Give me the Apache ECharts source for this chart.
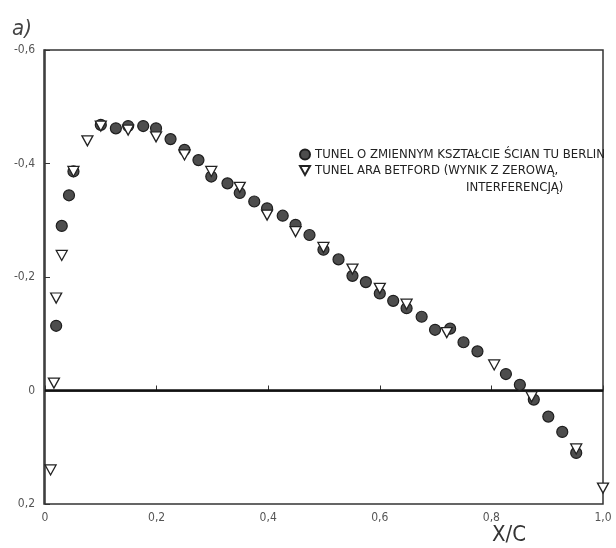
<!DOCTYPE html>
<html>
<head>
<meta charset="utf-8">
<script src="https://cdn.jsdelivr.net/npm/echarts@6/dist/echarts.min.js"></script>
<style>
html,body{margin:0;padding:0;background:#fff;}
#c{width:616px;height:548px;}
</style>
</head>
<body>
<div id="c"></div>
<script>
// x/c and pressure coefficient values
const berlinX = [0.020,0.030,0.043,0.051,0.100,0.127,0.149,0.176,0.199,0.225,0.250,0.275,0.298,0.327,0.349,0.375,0.398,0.426,0.449,0.474,0.499,0.526,0.551,0.575,0.600,0.624,0.648,0.675,0.699,0.726,0.750,0.775,0.826,0.851,0.876,0.902,0.927,0.952];
const berlinY = [-0.114,-0.290,-0.344,-0.386,-0.468,-0.462,-0.466,-0.466,-0.462,-0.443,-0.424,-0.406,-0.377,-0.365,-0.348,-0.333,-0.321,-0.308,-0.292,-0.274,-0.248,-0.231,-0.202,-0.191,-0.171,-0.158,-0.145,-0.130,-0.107,-0.109,-0.085,-0.069,-0.029,-0.010,0.016,0.046,0.073,0.110];
const bedfordX = [0.010,0.016,0.020,0.030,0.051,0.076,0.100,0.149,0.199,0.250,0.298,0.349,0.398,0.449,0.499,0.551,0.600,0.648,0.720,0.805,0.872,0.952,1.000];
const bedfordY = [0.140,-0.013,-0.163,-0.238,-0.386,-0.440,-0.466,-0.459,-0.447,-0.415,-0.386,-0.358,-0.309,-0.280,-0.252,-0.214,-0.180,-0.152,-0.102,-0.045,0.011,0.103,0.172];
const zeroLineX = [0, 1];
const zeroLineY = [0, 0];
const xTicks = ['0','0,2','0,4','0,6','0,8','1,0'];
const yTicks = {'-0.6':'-0,6','-0.4':'-0,4','-0.2':'-0,2','0':'0','0.2':'0,2'};
const nameBerlin = 'TUNEL O ZMIENNYM KSZTAŁCIE ŚCIAN TU BERLIN';
const nameBedford = 'TUNEL ARA BETFORD (WYNIK Z ZEROWĄ,';
const nameBedford2 = 'INTERFERENCJĄ)';

const zip = (a, b) => a.map((v, i) => [v, b[i]]);
const font = "'Liberation Sans Narrow','DejaVu Sans Condensed','Liberation Sans',sans-serif";

const chart = echarts.init(document.getElementById('c'), null, {renderer: 'canvas'});
chart.setOption({
  backgroundColor: '#ffffff',
  animation: false,
  grid: {left: 45, right: 13, top: 50, bottom: 44, show: false},
  xAxis: {
    type: 'value', min: 0, max: 1, interval: 0.2,
    axisLine: {show: true, lineStyle: {color: '#333', width: 1.5}},
    axisTick: {show: true, inside: true, length: 5, lineStyle: {color: '#333'}},
    splitLine: {show: false},
    axisLabel: {
      color: '#555', fontSize: 12, fontFamily: font, margin: 8,
      formatter: v => xTicks[Math.round(v * 5)]
    }
  },
  yAxis: {
    type: 'value', min: -0.6, max: 0.2, interval: 0.2, inverse: true,
    axisLine: {show: true, onZero: false, lineStyle: {color: '#333', width: 1.5}},
    axisTick: {show: true, inside: true, length: 5, lineStyle: {color: '#333'}},
    splitLine: {show: false},
    axisLabel: {
      color: '#555', fontSize: 12, fontFamily: font, margin: 10,
      formatter: v => yTicks[String(Math.round(v * 10) / 10)]
    }
  },
  legend: {
    orient: 'vertical', left: 294, top: 143, itemGap: 3,
    itemWidth: 10, itemHeight: 10,
    textStyle: {color: '#222', fontSize: 13, fontFamily: font},
    data: [
      {name: nameBerlin, icon: 'circle'},
      {name: nameBedford, icon: 'path://M0,0 L10,0 L5,9 Z'}
    ]
  },
  graphic: [
    {type: 'text', left: 12, top: 18, style: {text: 'a)', font: 'italic 22px ' + font, fill: '#444'}},
    {type: 'text', left: 492, top: 524, style: {text: 'X/C', font: '22px ' + font, fill: '#333'}},
    {type: 'text', left: 466, top: 181, style: {text: nameBedford2, font: '13px ' + font, fill: '#222'}},
    {type: 'rect', shape: {x: 44, y: 50, width: 559, height: 454}, style: {fill: 'none', stroke: '#333', lineWidth: 1.5}, silent: true, z: 0}
  ],
  series: [
    {
      type: 'line', data: zip(zeroLineX, zeroLineY), symbol: 'none',
      lineStyle: {color: '#111', width: 2.5}, silent: true, z: 1
    },
    {
      name: nameBerlin, type: 'scatter', data: zip(berlinX, berlinY),
      symbol: 'circle', symbolSize: 11,
      itemStyle: {color: '#4d4d4d', borderColor: '#1e1e1e', borderWidth: 1.2, opacity: 1},
      z: 3
    },
    {
      name: nameBedford, type: 'scatter', data: zip(bedfordX, bedfordY),
      symbol: 'path://M0,0 L10,0 L5,9 Z', symbolSize: [11, 10],
      itemStyle: {color: '#ffffff', borderColor: '#222', borderWidth: 1.3, opacity: 1},
      z: 4
    }
  ]
});
</script>
</body>
</html>
